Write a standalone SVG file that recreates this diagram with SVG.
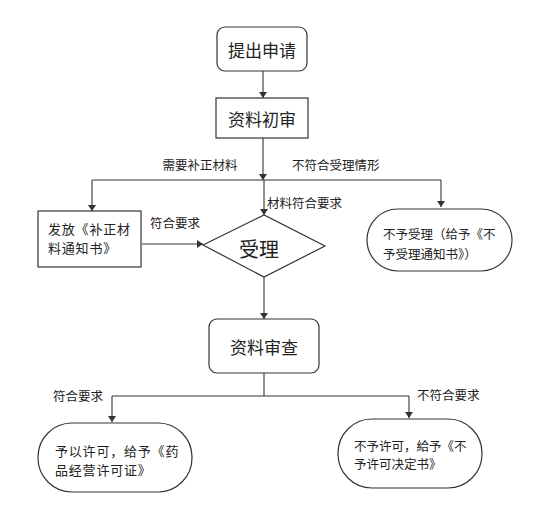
<svg xmlns="http://www.w3.org/2000/svg" width="553" height="521" viewBox="0 0 553 521">
<style>
.box{fill:#fff;stroke:#333;stroke-width:1.2}
.t{font-family:"Noto Sans CJK SC","Liberation Sans",sans-serif;fill:#222;dominant-baseline:central}
.big{font-size:17px;text-anchor:middle}
.mid{font-size:13px;letter-spacing:0.8px}
.lab{font-size:12.5px}
.c{fill:none;stroke:#333;stroke-width:1.1}
</style>
<defs>
<marker id="ah" markerWidth="6" markerHeight="8" refX="6" refY="4" orient="auto" markerUnits="userSpaceOnUse">
<path d="M0,0 L6,4 L0,8 Z" fill="#333"/>
</marker>
</defs>
<rect width="553" height="521" fill="#fff"/>
<g id="connectors">
<path class="c" d="M263,71 V98" marker-end="url(#ah)"/>
<path class="c" d="M263,138 V180" marker-end="url(#ah)"/>
<path class="c" d="M92,180 H441"/>
<path class="c" d="M92,180 V211" marker-end="url(#ah)"/>
<path class="c" d="M441,180 V207" marker-end="url(#ah)"/>
<path class="c" d="M264,180 V215" marker-end="url(#ah)"/>
<path class="c" d="M142,244 H203" marker-end="url(#ah)"/>
<path class="c" d="M264,277 V319" marker-end="url(#ah)"/>
<path class="c" d="M264,373 V396"/>
<path class="c" d="M112,396 H409"/>
<path class="c" d="M112,396 V422" marker-end="url(#ah)"/>
<path class="c" d="M409,396 V418" marker-end="url(#ah)"/>
<text class="t lab" x="200" y="164" text-anchor="middle">需要补正材料</text>
<text class="t lab" x="292" y="164">不符合受理情形</text>
<text class="t lab" x="267" y="202">材料符合要求</text>
<text class="t lab" x="150" y="222">符合要求</text>
<text class="t lab" x="53" y="395">符合要求</text>
<text class="t lab" x="417" y="394">不符合要求</text>
</g>
<g id="n1">
<rect class="box" x="217" y="27" width="90" height="44" rx="8"/>
<text class="t big" x="262" y="49">提出申请</text>
</g>
<g id="n2">
<rect class="box" x="216" y="98" width="92" height="40"/>
<text class="t big" x="262" y="118">资料初审</text>
</g>
<g id="n3">
<rect class="box" x="38" y="211" width="103" height="56"/>
<text class="t mid" x="48" y="228">发放《补正材</text>
<text class="t mid" x="48" y="247">料通知书》</text>
</g>
<g id="n4">
<polygon class="box" points="203,245 264,215 325,246 264,277"/>
<text class="t big" x="259" y="248" style="font-size:20px">受理</text>
</g>
<g id="n5">
<rect class="box" x="367" y="209" width="145" height="62" rx="31"/>
<text class="t lab" x="383" y="233">不予受理（给予《不</text>
<text class="t lab" x="383" y="253">予受理通知书》）</text>
</g>
<g id="n6">
<rect class="box" x="209" y="319" width="110" height="54" rx="8"/>
<text class="t big" x="264" y="346">资料审查</text>
</g>
<g id="n7">
<rect class="box" x="38" y="423" width="154" height="69" rx="34"/>
<text class="t mid" x="55" y="450">予以许可，给予《药</text>
<text class="t mid" x="55" y="469">品经营许可证》</text>
</g>
<g id="n8">
<rect class="box" x="338" y="419" width="144" height="69" rx="34"/>
<text class="t lab" x="354" y="445">不予许可，給予《不</text>
<text class="t lab" x="354" y="463">予许可决定书》</text>
</g>
</svg>
